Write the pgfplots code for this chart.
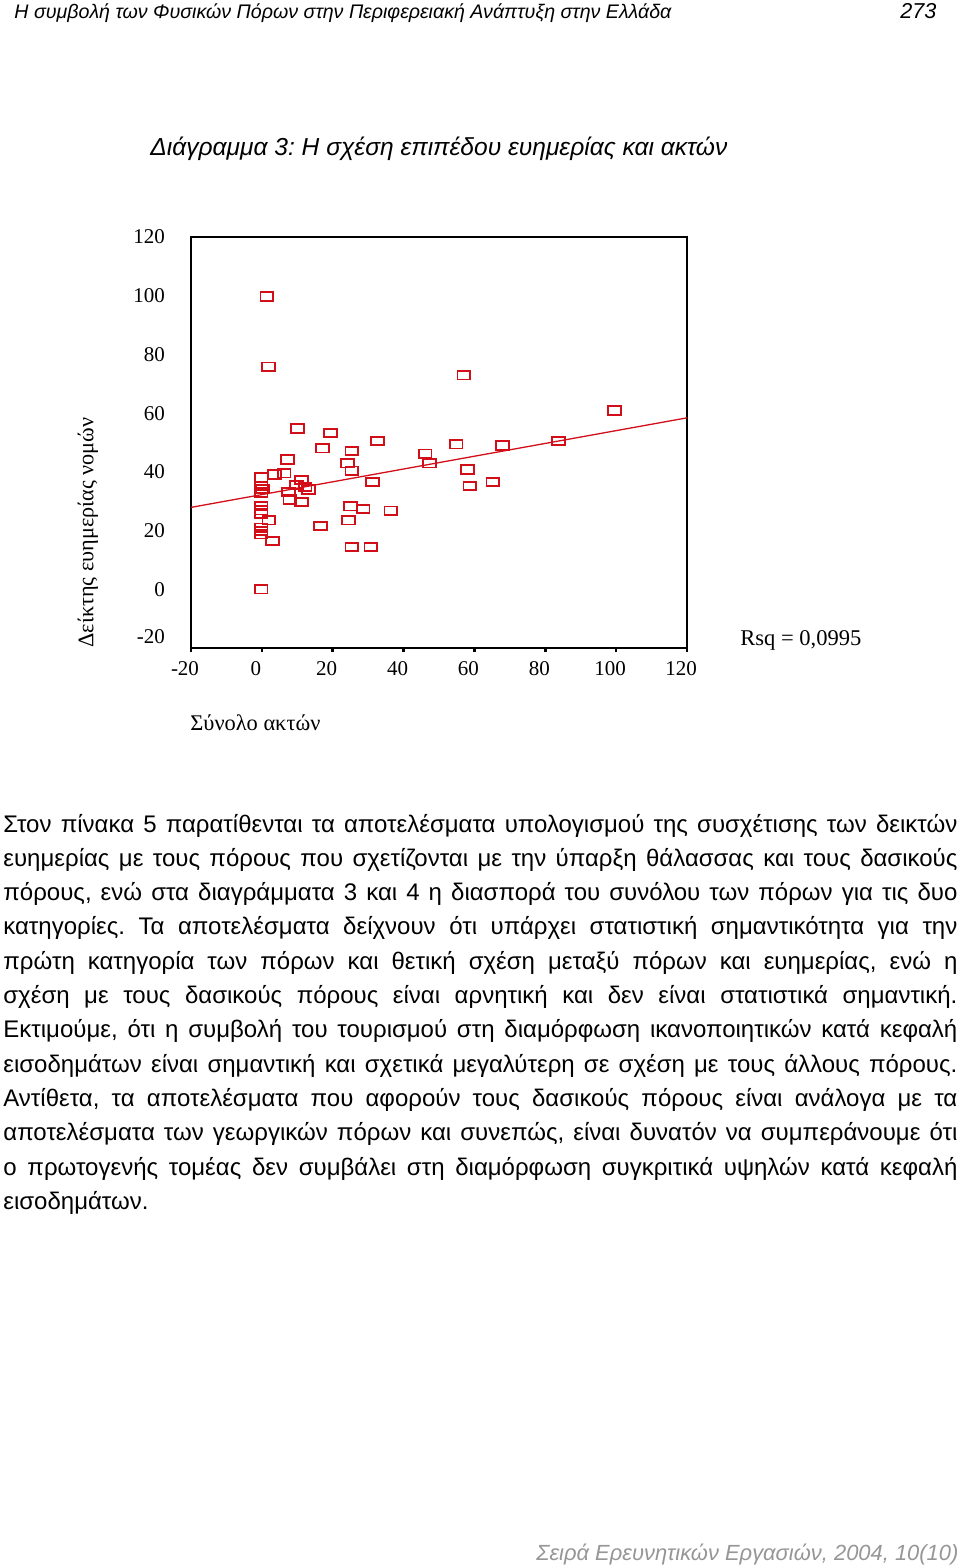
\documentclass[border=0pt]{standalone}
\usepackage{fontspec}
\setmainfont{Liberation Sans}
\newfontfamily\serif{Liberation Serif}
\usepackage{graphicx}
\usepackage{pgfplots}
\pgfplotsset{compat=1.18}
\frenchspacing
\definecolor{mred}{RGB}{210,15,25}
\definecolor{fgray}{RGB}{150,150,150}
\pgfdeclareplotmark{rbox}{\pgfpathrectangle{\pgfpoint{-3.2pt}{-2.1pt}}{\pgfpoint{6.4pt}{4.2pt}}\pgfusepathqstroke}
\newcommand{\bodyfont}{\fontsize{12}{14}\selectfont}
\begin{document}
\begin{tikzpicture}
\path[fill=white] (0,0) rectangle (480pt,-783.5pt);
% header
\node[anchor=base west, inner sep=0] at (7pt,-9.5pt) {\resizebox{328.5pt}{!}{\fontsize{10}{12}\selectfont\itshape Η συμβολή των Φυσικών Πόρων στην Περιφερειακή Ανάπτυξη στην Ελλάδα}};
\node[anchor=base west, inner sep=0] at (450pt,-9.5pt) {\resizebox{18pt}{!}{\fontsize{10}{12}\selectfont\itshape 273}};
% title
\node[anchor=base west, inner sep=0] at (75pt,-78pt) {\resizebox{288.5pt}{!}{\fontsize{12}{14}\selectfont\itshape Διάγραμμα 3: Η σχέση επιπέδου ευημερίας και ακτών}};
% axis
\begin{axis}[at={(95.5pt,-324pt)}, anchor=south west, scale only axis,
  width=248pt, height=205.5pt,
  xmin=-20, xmax=120, ymin=-20, ymax=120,
  axis line style={line width=1pt},
  xtick={-20,0,20,40,60,80,100,120},
  ytick={0,20,40,60,80,100,120},
  extra y ticks={-20},
  extra y tick style={tick label style={yshift=5.5pt}, draw=none},
  xtick pos=bottom, ytick pos=left,
  tick align=outside,
  major tick length=2pt,
  xtick style={line width=1.3pt, black},
  ytick style={draw=none},
  /pgf/number format/assume math mode=true,
  tick label style={font=\serif\fontsize{10.5}{12}\selectfont},
  xticklabel style={xshift=-3pt, yshift=-1pt},
  yticklabel style={xshift=-7.5pt},
  clip=false]
\addplot[only marks, mark=rbox, mred, line width=0.9pt] coordinates {
(1.4,99.7) (1.8,75.8) (57.0,72.9) (99.6,60.9) (10.0,54.8) (19.4,53.3)
(32.6,50.5) (17.2,48.0) (25.4,47.1) (54.8,49.4) (68.0,49.0) (83.7,50.5)
(46.1,46.2) (47.3,42.9) (7.3,44.2) (24.2,42.9) (25.4,40.4) (58.1,40.8)
(-0.2,38.1) (3.5,39.1) (6.3,39.5) (31.3,36.6) (58.7,35.2) (65.2,36.6)
(-0.2,35.2) (0.2,34.1) (-0.2,33.0) (9.8,35.5) (11.2,37.2) (12.2,34.9)
(13.1,34.0) (7.5,33.2) (7.9,30.6) (11.2,29.8) (25.0,28.3) (28.6,27.4)
(36.4,26.8) (-0.2,28.3) (-0.2,26.9) (-0.2,25.8) (2.0,23.5) (24.4,23.5)
(16.6,21.6) (-0.2,21.0) (-0.2,19.8) (-0.2,18.7) (3.0,16.4) (25.4,14.4)
(30.8,14.4) (-0.2,0.0)
};
\addplot[mred, line width=0.65pt] coordinates {(-20,27.9) (120,58.4)};
\end{axis}
% axis labels
\node[rotate=90, anchor=west, inner sep=0] at (44pt,-324pt) {\resizebox{115pt}{!}{\serif\fontsize{11}{13}\selectfont Δείκτης ευημερίας νομών}};
\node[anchor=base west, inner sep=0] at (95pt,-365pt) {\resizebox{65pt}{!}{\serif\fontsize{11}{13}\selectfont Σύνολο ακτών}};
\node[anchor=base west, inner sep=0] at (370pt,-322.5pt) {\resizebox{60.5pt}{!}{\serif\fontsize{11}{13}\selectfont Rsq = 0,0995}};
% body text
\node[anchor=base west, inner sep=0] at (1.5pt,-416pt) {\bodyfont\makebox[477pt][s]{Στον πίνακα 5 παρατίθενται τα αποτελέσματα υπολογισμού της συσχέτισης των δεικτών}};
\node[anchor=base west, inner sep=0] at (1.5pt,-433.15pt) {\bodyfont\makebox[477pt][s]{ευημερίας με τους πόρους που σχετίζονται με την ύπαρξη θάλασσας και τους δασικούς}};
\node[anchor=base west, inner sep=0] at (1.5pt,-450.3pt) {\bodyfont\makebox[477pt][s]{πόρους, ενώ στα διαγράμματα 3 και 4 η διασπορά του συνόλου των πόρων για τις δυο}};
\node[anchor=base west, inner sep=0] at (1.5pt,-467.45pt) {\bodyfont\makebox[477pt][s]{κατηγορίες. Τα αποτελέσματα δείχνουν ότι υπάρχει στατιστική σημαντικότητα για την}};
\node[anchor=base west, inner sep=0] at (1.5pt,-484.6pt) {\bodyfont\makebox[477pt][s]{πρώτη κατηγορία των πόρων και θετική σχέση μεταξύ πόρων και ευημερίας, ενώ η}};
\node[anchor=base west, inner sep=0] at (1.5pt,-501.75pt) {\bodyfont\makebox[477pt][s]{σχέση με τους δασικούς πόρους είναι αρνητική και δεν είναι στατιστικά σημαντική.}};
\node[anchor=base west, inner sep=0] at (1.5pt,-518.9pt) {\bodyfont\makebox[477pt][s]{Εκτιμούμε, ότι η συμβολή του τουρισμού στη διαμόρφωση ικανοποιητικών κατά κεφαλή}};
\node[anchor=base west, inner sep=0] at (1.5pt,-536.05pt) {\bodyfont\makebox[477pt][s]{εισοδημάτων είναι σημαντική και σχετικά μεγαλύτερη σε σχέση με τους άλλους πόρους.}};
\node[anchor=base west, inner sep=0] at (1.5pt,-553.2pt) {\bodyfont\makebox[477pt][s]{Αντίθετα, τα αποτελέσματα που αφορούν τους δασικούς πόρους είναι ανάλογα με τα}};
\node[anchor=base west, inner sep=0] at (1.5pt,-570.35pt) {\bodyfont\makebox[477pt][s]{αποτελέσματα των γεωργικών πόρων και συνεπώς, είναι δυνατόν να συμπεράνουμε ότι}};
\node[anchor=base west, inner sep=0] at (1.5pt,-587.5pt) {\bodyfont\makebox[477pt][s]{ο πρωτογενής τομέας δεν συμβάλει στη διαμόρφωση συγκριτικά υψηλών κατά κεφαλή}};
\node[anchor=base west, inner sep=0] at (1.5pt,-604.65pt) {\bodyfont εισοδημάτων.};
% footer
\node[anchor=base west, inner sep=0] at (268pt,-780pt) {\resizebox{211pt}{!}{\color{fgray}\fontsize{11}{13}\selectfont\itshape Σειρά Ερευνητικών Εργασιών, 2004, 10(10)}};
\end{tikzpicture}
\end{document}
